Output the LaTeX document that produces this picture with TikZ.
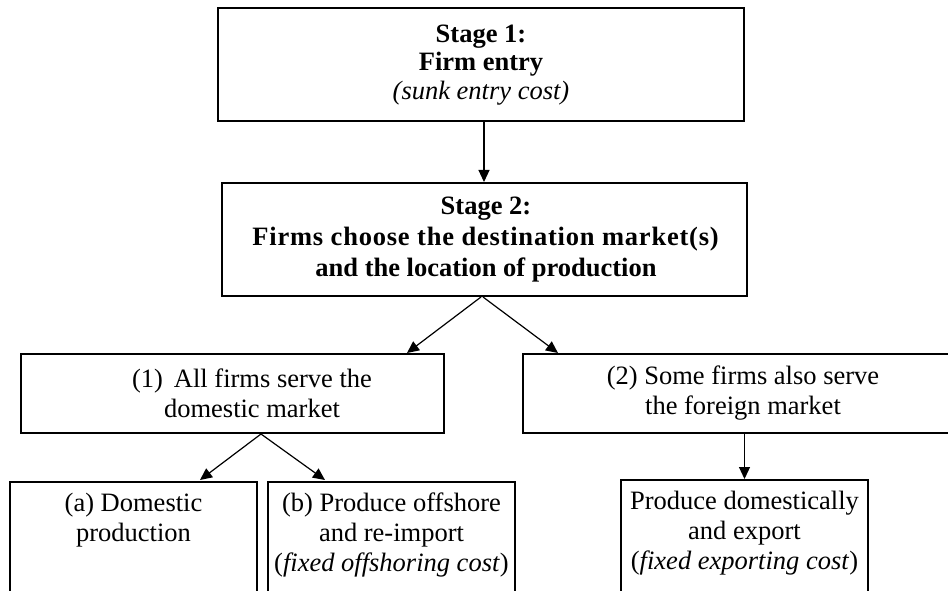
\documentclass[tikz,border=0pt]{standalone}
\usepackage{fontspec}
\setmainfont{Liberation Serif}
\usetikzlibrary{arrows.meta}
\begin{document}
\begin{tikzpicture}[x=1pt,y=1pt,
  box/.style={draw, line width=2pt, inner sep=0pt},
  lbl/.style={align=center, inner sep=0pt, font=\fontsize{26.5}{30}\selectfont},
  arr/.style={line width=1.2pt, -{Triangle[length=12pt,width=11pt]}}]
\useasboundingbox (0,0) rectangle (948,-591);
\clip (0,0) rectangle (948,-591);
% boxes
\node[box, minimum width=526pt, minimum height=113pt] (s1) at (481,-64.5) {};
\node[box, minimum width=525pt, minimum height=113pt] (s2) at (484.5,-239.5) {};
\node[box, minimum width=423pt, minimum height=79pt] (n1) at (232.5,-393.5) {};
\node[box, minimum width=444pt, minimum height=79pt] (n2) at (745,-393.5) {};
\node[box, minimum width=247pt, minimum height=140pt, anchor=north] (na) at (133.5,-481) {};
\node[box, minimum width=247pt, minimum height=140pt, anchor=north] (nb) at (391.5,-481) {};
\node[box, minimum width=247pt, minimum height=140pt, anchor=north] (ne) at (744.5,-479) {};
% texts
\node[lbl, font=\fontsize{26.5}{28.5}\selectfont] (t1) at (481,-65) {\textbf{Stage 1:}\\\textbf{Firm entry}\\\textit{(sunk entry cost)}};
\node[lbl, font=\fontsize{26.5}{31}\selectfont] (t2) at (486,-240) {\textbf{Stage 2:}\\{\addfontfeatures{LetterSpace=3}\textbf{Firms choose the destination market(s)}}\\\textbf{and the location of production}};
\node[lbl] (tn1) at (252,-393) {(1)\ \,All firms serve the\\domestic market};
\node[lbl] (tn2) at (743,-393) {(2) Some firms also serve\\the foreign market};
\node[lbl, anchor=north] (ta) at (133.5,-493) {(a) Domestic\\production};
\node[lbl, anchor=north] (tb) at (391.5,-493) {(b) Produce offshore\\and re-import\\(\textit{fixed offshoring cost})};
\node[lbl, anchor=north] (te) at (744.5,-491) {Produce domestically\\and export\\(\textit{fixed exporting cost})};
% connector anchors
\coordinate (s2l) at (481,-297);
\coordinate (s2r) at (483,-297);
\coordinate (n1in) at (407,-353);
\coordinate (n2in) at (558,-353);
\coordinate (n1out) at (261,-434);
\coordinate (nain) at (200,-480);
\coordinate (nbin) at (325,-480);
% connectors
\draw[arr] (s1.south -| 484,0) -- (s2.north -| 484,0);
\draw[arr] (s2l) -- (n1in);
\draw[arr] (s2r) -- (n2in);
\draw[arr] (n1out) -- (nain);
\draw[arr] (n1out) -- (nbin);
\draw[arr] (n2.south -| ne.north) -- (ne.north);
\end{tikzpicture}
\end{document}
